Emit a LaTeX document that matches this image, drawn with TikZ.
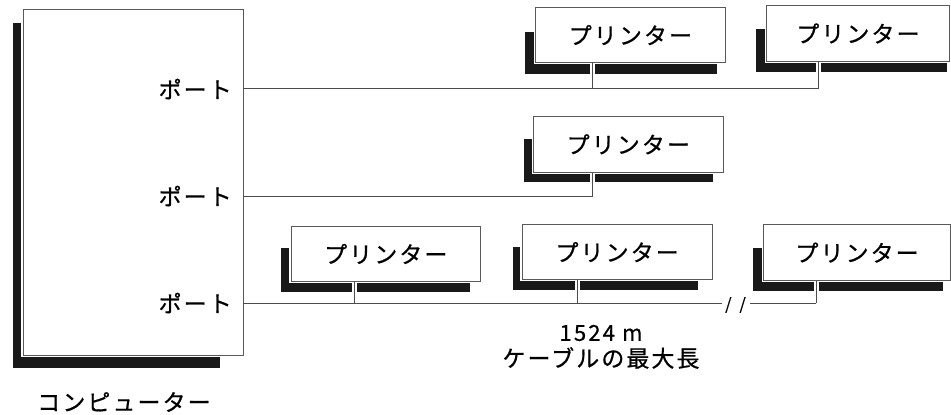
\documentclass[tikz,border=0pt]{standalone}
\usepackage{fontspec}
\setmainfont{Noto Sans CJK JP}
\newfontfamily\jpf[LetterSpace=9,FakeBold=0.6]{Noto Sans CJK JP}
\newfontfamily\numf[LetterSpace=10,FakeBold=0.6]{Noto Sans CJK JP}
\newfontfamily\brkf[FakeBold=0.6]{Noto Sans CJK JP}
\tikzset{
  shadowfill/.style={fill=black!90, draw=none},
  pbox/.style={draw=black!65, line width=0.9pt, fill=white, inner sep=0pt,
    anchor=north west, preaction={draw=white, line width=3.5pt},
    font=\jpf\fontsize{23}{26}\selectfont},
  vconn/.style={draw=black!70, line width=0.8pt, preaction={draw=white, line width=5pt}},
  bus/.style={draw=black!70, line width=0.8pt},
  lbl/.style={inner sep=0pt, font=\jpf\fontsize{23}{26}\selectfont},
}
\newcommand\prn[9]{%
  \fill[shadowfill] (#6,#7) rectangle (#8,#9);
  \node[pbox, minimum width=#4pt, minimum height=#5pt] (#1) at (#2,#3) {プリンター};
}
\begin{document}
\begin{tikzpicture}[x=1pt,y=-1pt]
\useasboundingbox (0,0) rectangle (951,415);
% computer
\fill[shadowfill] (12.7,22.7) rectangle (220,368);
\node[pbox, minimum width=220.3pt, minimum height=345.7pt] (comp) at (22.7,9.3) {};
% printers
\prn{p1}{535}{7.3}{190}{54.7}{525}{31.7}{716.7}{74}
\prn{p2}{766}{5}{183}{56}{756}{29}{946.7}{71.7}
\prn{p3}{533}{116}{189.7}{55.7}{524}{139}{713}{181.7}
\prn{p4}{290.7}{226}{189.3}{55}{280.7}{248}{470}{291.7}
\prn{p5}{521.7}{224.3}{190}{54.7}{512.7}{246.7}{698}{290}
\prn{p6}{763.3}{224.3}{186.7}{55.7}{753.3}{247.7}{943.3}{291}
% bus coordinates
\coordinate (port1) at (243,88.7);
\coordinate (port2) at (243,196.7);
\coordinate (port3) at (243,303);
\coordinate (b1) at (592,88.7);
\coordinate (b2) at (818,88.7);
\coordinate (b3) at (592,196.7);
\coordinate (b4) at (354.3,303);
\coordinate (b5) at (577,303);
\coordinate (b6) at (816,303);
\coordinate (brk1) at (721.7,303);
\coordinate (brk2) at (750,303);
% vertical drops
\draw[vconn] (p1.south -| b1) -- (b1);
\draw[vconn] (p2.south -| b2) -- (b2);
\draw[vconn] (p3.south -| b3) -- (b3);
\draw[vconn] (p4.south -| b4) -- (b4);
\draw[vconn] (p5.south -| b5) -- (b5);
\draw[vconn] (p6.south -| b6) -- (b6);
% buses
\draw[bus] (port1) -- (b2);
\draw[bus] (port2) -- (b3);
\draw[bus] (port3) -- (brk1);
\draw[bus] (brk2) -- (b6);
\node[inner sep=0pt, font=\brkf\fontsize{16}{16}\selectfont] (brk) at (735.5,305) {/\hspace{8pt}/};
% labels
\node[lbl, anchor=east] (l1) at (232,89) {ポート};
\node[lbl, anchor=east] (l2) at (232,196) {ポート};
\node[lbl, anchor=east] (l3) at (232,303) {ポート};
\node[lbl] (clab) at (124,402) {コンピューター};
\node[lbl, font=\numf\fontsize{22}{26}\selectfont] (len) at (601,333) {1524 m};
\node[lbl] (cab) at (601,358) {ケーブルの最大長};
\end{tikzpicture}
\end{document}
